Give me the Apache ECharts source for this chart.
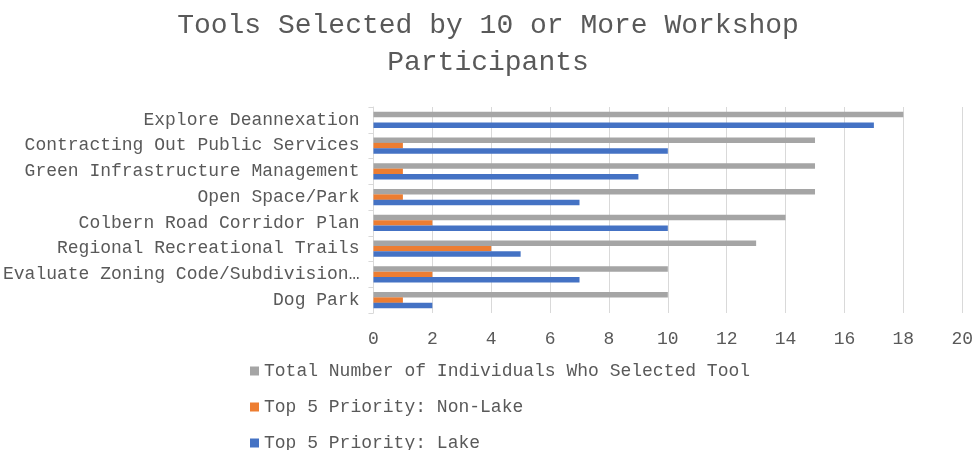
<!DOCTYPE html>
<html><head><meta charset="utf-8">
<script src="https://cdn.jsdelivr.net/npm/echarts@6/dist/echarts.min.js"></script>
<style>html,body{margin:0;padding:0;background:#fff}#c{width:976px;height:450px}</style>
</head><body><div id="c"></div>
<script>
const categories = ["Explore Deannexation","Contracting Out Public Services","Green Infrastructure Management","Open Space/Park","Colbern Road Corridor Plan","Regional Recreational Trails","Evaluate Zoning Code/Subdivision…","Dog Park"];
const totalSelected = [18,15,15,15,14,13,10,10];
const nonLake = [0,1,1,1,2,4,2,1];
const lake = [17,10,9,7,10,5,7,2];
const seriesNames = ["Total Number of Individuals Who Selected Tool","Top 5 Priority: Non-Lake","Top 5 Priority: Lake"];
const xTicks = [0,2,4,6,8,10,12,14,16,18,20];

const FONT = '"Liberation Mono", monospace';
const chart = echarts.init(document.getElementById('c'));
const legendTops = [357, 393, 429];
chart.setOption({
  animation:false,
  textStyle:{fontFamily:FONT},
  title:{text:"Tools Selected by 10 or More Workshop\nParticipants",left:'center',top:2,
    textStyle:{fontFamily:FONT,fontSize:28,fontWeight:'normal',color:'#595959',lineHeight:37}},
  legend:seriesNames.map((n,i)=>({orient:'vertical',left:245,top:legendTops[i],itemWidth:9,itemHeight:9,icon:'rect',
    data:[n],textStyle:{fontFamily:FONT,fontSize:18,color:'#595959'}})),
  grid:{left:373,right:12,top:107,bottom:137,containLabel:false},
  xAxis:{type:'value',min:0,max:20,interval:2,
    axisLine:{show:false},axisTick:{show:false},
    splitLine:{lineStyle:{color:'#d9d9d9',width:1}},
    axisLabel:{fontFamily:FONT,fontSize:18,color:'#595959',margin:17,
      formatter:v=>xTicks.includes(v)?String(v):''}},
  yAxis:{type:'category',data:categories,inverse:true,
    axisLine:{lineStyle:{color:'#d9d9d9'}},
    axisTick:{show:true,length:5,lineStyle:{color:'#d9d9d9'}},
    axisLabel:{fontFamily:FONT,fontSize:18,color:'#595959',margin:14,padding:[4,0,0,0]}},
  series:[
    {name:seriesNames[0],type:'bar',data:totalSelected,itemStyle:{color:'#A5A5A5'},barGap:'0%',barCategoryGap:'36%'},
    {name:seriesNames[1],type:'bar',data:nonLake,itemStyle:{color:'#ED7D31'}},
    {name:seriesNames[2],type:'bar',data:lake,itemStyle:{color:'#4472C4'}}
  ]
});
</script></body></html>
